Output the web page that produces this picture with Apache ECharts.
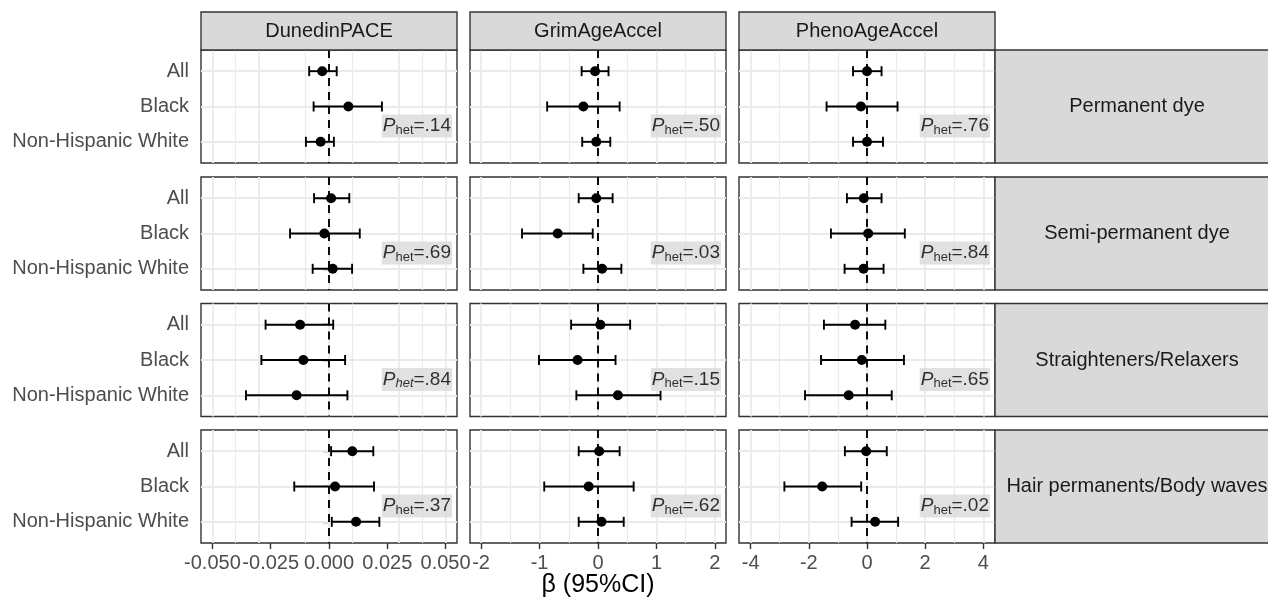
<!DOCTYPE html>
<html>
<head>
<meta charset="utf-8">
<script src="https://cdn.jsdelivr.net/npm/echarts@6/dist/echarts.min.js"></script>
<style>
  html, body { margin: 0; padding: 0; background: #fff; }
  #chart { width: 1268px; height: 601px; }
</style>
</head>
<body>
<div id="chart"></div>
<script>
// facets
const clocks = ['DunedinPACE', 'GrimAgeAccel', 'PhenoAgeAccel'];
const products = ['Permanent dye', 'Semi-permanent dye', 'Straighteners/Relaxers', 'Hair permanents/Body waves'];
const groups = ['All', 'Black', 'Non-Hispanic White'];

// one row per product, values for All / Black / Non-Hispanic White
const dunedinBeta = [[-0.0029, 0.0083, -0.0036], [0.0009, -0.0020, 0.0016], [-0.0124, -0.0110, -0.0139], [0.0100, 0.0026, 0.0116]];
const dunedinLow  = [[-0.0085, -0.0066, -0.0099], [-0.0064, -0.0167, -0.0070], [-0.0272, -0.0290, -0.0356], [0.0009, -0.0149, 0.0012]];
const dunedinHigh = [[0.0033, 0.0227, 0.0021], [0.0087, 0.0132, 0.0099], [0.0018, 0.0069, 0.0079], [0.0190, 0.0193, 0.0216]];

const grimBeta = [[-0.05, -0.25, -0.03], [-0.03, -0.69, 0.07], [0.04, -0.35, 0.34], [0.02, -0.16, 0.06]];
const grimLow  = [[-0.28, -0.87, -0.27], [-0.33, -1.30, -0.25], [-0.46, -1.01, -0.37], [-0.33, -0.92, -0.33]];
const grimHigh = [[0.18, 0.37, 0.21], [0.25, -0.09, 0.40], [0.55, 0.30, 1.07], [0.37, 0.61, 0.44]];

const phenoBeta = [[0.00, -0.21, 0.00], [-0.11, 0.04, -0.12], [-0.41, -0.18, -0.63], [-0.03, -1.54, 0.28]];
const phenoLow  = [[-0.48, -1.39, -0.48], [-0.69, -1.24, -0.77], [-1.48, -1.58, -2.13], [-0.76, -2.84, -0.53]];
const phenoHigh = [[0.50, 1.05, 0.55], [0.50, 1.30, 0.57], [0.63, 1.27, 0.85], [0.68, -0.20, 1.07]];

// P for heterogeneity, one per product
const dunedinP = ['.14', '.69', '.84', '.37'];
const grimP    = ['.50', '.03', '.15', '.62'];
const phenoP   = ['.76', '.84', '.65', '.02'];

// x axis breaks and half-ranges
const dunedinTicks = [-0.05, -0.025, 0, 0.025, 0.05];
const grimTicks    = [-2, -1, 0, 1, 2];
const phenoTicks   = [-4, -2, 0, 2, 4];
const xLimits = [0.0549, 2.19, 4.4];

const cols = [
  { beta: dunedinBeta, low: dunedinLow, high: dunedinHigh, p: dunedinP, ticks: dunedinTicks, fmt: v => v.toFixed(3) },
  { beta: grimBeta, low: grimLow, high: grimHigh, p: grimP, ticks: grimTicks, fmt: v => String(v) },
  { beta: phenoBeta, low: phenoLow, high: phenoHigh, p: phenoP, ticks: phenoTicks, fmt: v => String(v) }
];

// layout
const FONT = '"Liberation Sans", Arial, sans-serif';
const colLeft = [201, 470, 739];
const rowTop = [50, 177, 303.5, 430];
const PW = 256, PH = 113;
const stripTop = 12;
const rightStripLeft = 995, rightStripW = 284;

const chart = echarts.init(document.getElementById('chart'), null, { renderer: 'canvas' });

const grids = [], xAxes = [], yAxes = [], series = [], graphics = [];

function midpoints(t) {
  const m = [];
  for (let i = 0; i < t.length - 1; i++) m.push((t[i] + t[i + 1]) / 2);
  return m;
}

products.forEach((prod, r) => {
  cols.forEach((col, c) => {
    const idx = grids.length;
    const isBottom = r === products.length - 1;
    const isLeft = c === 0;
    grids.push({
      left: colLeft[c], top: rowTop[r], width: PW, height: PH,
      show: true, backgroundColor: '#fff', borderColor: '#333333', borderWidth: 1.4
    });
    xAxes.push({
      type: 'value', gridIndex: idx, min: -xLimits[c], max: xLimits[c],
      axisLine: { show: false },
      splitLine: { show: false },
      axisTick: { show: isBottom, customValues: col.ticks, length: 6, lineStyle: { color: '#333333', width: 1.4 } },
      axisLabel: {
        show: isBottom, customValues: col.ticks, margin: 10,
        formatter: col.fmt, color: '#4D4D4D', fontSize: 20, fontFamily: FONT
      }
    });
    yAxes.push({
      type: 'value', gridIndex: idx, min: 0.4, max: 3.6, inverse: true,
      axisLine: { show: false },
      splitLine: { show: false },
      axisTick: { show: isLeft, customValues: [1, 2, 3], length: 6, lineStyle: { color: '#333333', width: 1.4 } },
      axisLabel: {
        show: isLeft, customValues: [1, 2, 3], margin: 12,
        formatter: v => groups[Math.round(v) - 1] || '',
        color: '#4D4D4D', fontSize: 20, fontFamily: FONT
      }
    });

    // panel grid lines
    const gl = [];
    col.ticks.forEach(v => gl.push({ xAxis: v, lineStyle: { color: '#EBEBEB', width: 1.8, type: 'solid' } }));
    midpoints(col.ticks).forEach(v => gl.push({ xAxis: v, lineStyle: { color: '#EBEBEB', width: 1.2, type: 'solid' } }));
    [1, 2, 3].forEach(v => gl.push({ yAxis: v, lineStyle: { color: '#EBEBEB', width: 1.8, type: 'solid' } }));
    series.push({
      type: 'scatter', xAxisIndex: idx, yAxisIndex: idx, data: [], silent: true, z: 1,
      markLine: { silent: true, z: 1, symbol: ['none', 'none'], label: { show: false }, animation: false, data: gl }
    });

    // dashed zero line
    series.push({
      type: 'scatter', xAxisIndex: idx, yAxisIndex: idx, data: [], silent: true, z: 3,
      markLine: {
        silent: true, z: 3, symbol: ['none', 'none'], label: { show: false }, animation: false,
        data: [{ xAxis: 0, lineStyle: { color: '#000', width: 1.9, type: [8, 6] } }]
      }
    });

    // confidence intervals
    series.push({
      type: 'custom', xAxisIndex: idx, yAxisIndex: idx, z: 4, silent: true, animation: false,
      encode: { x: [1, 2], y: 0 },
      data: groups.map((g, k) => [k + 1, col.low[r][k], col.high[r][k]]),
      renderItem: (params, api) => {
        const y = api.value(0);
        const a = api.coord([api.value(1), y]);
        const b = api.coord([api.value(2), y]);
        const cap = 5;
        const st = { stroke: '#000', lineWidth: 1.9 };
        return {
          type: 'group', children: [
            { type: 'line', shape: { x1: a[0], y1: a[1], x2: b[0], y2: b[1] }, style: st },
            { type: 'line', shape: { x1: a[0], y1: a[1] - cap, x2: a[0], y2: a[1] + cap }, style: st },
            { type: 'line', shape: { x1: b[0], y1: b[1] - cap, x2: b[0], y2: b[1] + cap }, style: st }
          ]
        };
      }
    });

    // point estimates
    series.push({
      type: 'scatter', xAxisIndex: idx, yAxisIndex: idx, z: 6, silent: true, animation: false,
      symbol: 'circle', symbolSize: 10, itemStyle: { color: '#000', opacity: 1 },
      data: groups.map((g, k) => [col.beta[r][k], k + 1])
    });

    // P_het annotation
    const italicSub = (r === 2 && c === 0);
    series.push({
      type: 'scatter', xAxisIndex: idx, yAxisIndex: idx, z: 7, silent: true, animation: false,
      symbolSize: 0, clip: false,
      data: [[xLimits[c], 2.55]],
      label: {
        show: true, position: 'left', distance: 5,
        backgroundColor: '#D9D9D9', padding: [1, 1, 1, 1],
        formatter: '{p|P}{' + (italicSub ? 'si' : 's') + '|het}{t|=' + col.p[r] + '}',
        rich: {
          p: { fontSize: 19, fontStyle: 'italic', color: '#000', fontFamily: FONT, lineHeight: 21 },
          s: { fontSize: 13, color: '#000', fontFamily: FONT, lineHeight: 6, verticalAlign: 'bottom' },
          si: { fontSize: 13, fontStyle: 'italic', color: '#000', fontFamily: FONT, lineHeight: 6, verticalAlign: 'bottom' },
          t: { fontSize: 19, color: '#000', fontFamily: FONT, lineHeight: 21 }
        }
      }
    });
  });
});

// column strips
clocks.forEach((name, c) => {
  graphics.push({
    type: 'rect', z: 10, shape: { x: colLeft[c], y: stripTop, width: PW, height: rowTop[0] - stripTop },
    style: { fill: '#D9D9D9', stroke: '#333333', lineWidth: 1.4 }
  });
  graphics.push({
    type: 'text', z: 11, x: colLeft[c] + PW / 2, y: (stripTop + rowTop[0]) / 2,
    style: { text: name, fill: '#1A1A1A', font: '20px ' + FONT, textAlign: 'center', textVerticalAlign: 'middle' }
  });
});

// row strips
products.forEach((name, r) => {
  graphics.push({
    type: 'rect', z: 10, shape: { x: rightStripLeft, y: rowTop[r], width: rightStripW, height: PH },
    style: { fill: '#D9D9D9', stroke: '#333333', lineWidth: 1.4 }
  });
  graphics.push({
    type: 'text', z: 11, x: rightStripLeft + rightStripW / 2, y: rowTop[r] + PH / 2,
    style: { text: name, fill: '#1A1A1A', font: '20px ' + FONT, textAlign: 'center', textVerticalAlign: 'middle' }
  });
});

// x axis title
graphics.push({
  type: 'text', z: 11, x: (colLeft[0] + colLeft[2] + PW) / 2, y: 585,
  style: { text: 'β (95%CI)', fill: '#000', font: '25px ' + FONT, textAlign: 'center', textVerticalAlign: 'middle' }
});

chart.setOption({
  animation: false,
  backgroundColor: '#fff',
  grid: grids,
  xAxis: xAxes,
  yAxis: yAxes,
  series: series,
  graphic: { elements: graphics }
});
</script>
</body>
</html>
